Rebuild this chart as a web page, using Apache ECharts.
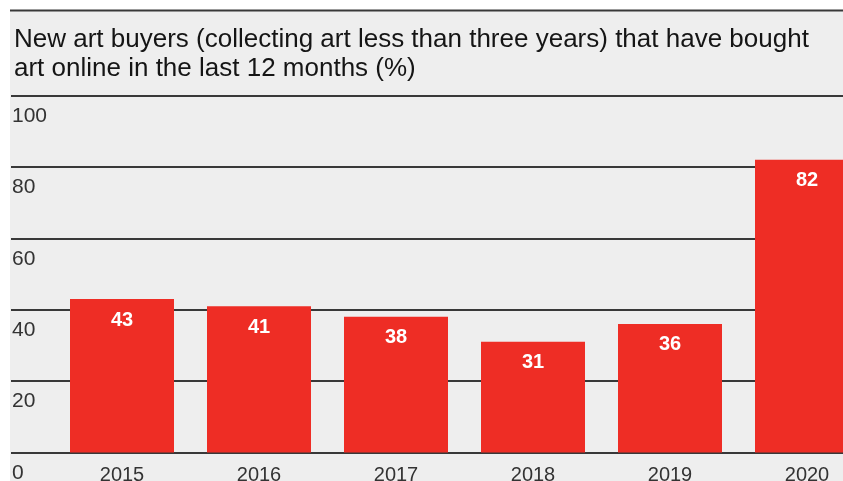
<!DOCTYPE html>
<html>
<head>
<meta charset="utf-8">
<style>
  html, body { margin: 0; padding: 0; background: #ffffff; }
  #chart { width: 843px; height: 481px; }
</style>
<script src="https://cdn.jsdelivr.net/npm/echarts@6/dist/echarts.min.js"></script>
</head>
<body>
<div id="chart"></div>
<script>
// Survey years and share of new buyers purchasing online (%)
const years = ['2015', '2016', '2017', '2018', '2019', '2020'];
const shareOnline = [43, 41, 38, 31, 36, 82];
const yTicks = [0, 20, 40, 60, 80, 100];

const titleText = 'New art buyers (collecting art less than three years) that have bought\nart online in the last 12 months (%)';

const chart = echarts.init(document.getElementById('chart'), null, { renderer: 'canvas' });

const FONT = '"Liberation Sans", Arial, sans-serif';
const TOP = 95.5;
const BOTTOM = 481 - 452.5;

chart.setOption({
  animation: false,
  backgroundColor: '#ffffff',
  graphic: [
    { type: 'rect', z: -10, silent: true,
      shape: { x: 10, y: 10, width: 833, height: 471 },
      style: { fill: '#eeeeee' } },
    { type: 'line', z: 5, silent: true,
      shape: { x1: 10, y1: 10.5, x2: 843, y2: 10.5 },
      style: { stroke: '#383838', lineWidth: 2 } }
  ],
  title: {
    text: titleText,
    left: 9,
    top: 20,
    textStyle: { fontFamily: FONT, fontSize: 26, fontWeight: 'normal', color: '#151515', lineHeight: 29.5 }
  },
  grid: [
    { left: 11, right: 0, top: TOP, bottom: BOTTOM, outerBoundsMode: 'none', containLabel: false },
    { left: 53.5, right: -32.5, top: TOP, bottom: BOTTOM, outerBoundsMode: 'none', containLabel: false }
  ],
  xAxis: [
    { gridIndex: 0, type: 'value', min: 0, max: 1, show: false },
    { gridIndex: 1, type: 'category', data: years,
      axisLine: { show: false }, axisTick: { show: false },
      axisLabel: { fontFamily: FONT, fontSize: 20, color: '#333333', margin: 13 } }
  ],
  yAxis: [
    { gridIndex: 0, type: 'value', min: 0, max: 100, interval: 20,
      axisLine: { show: false }, axisTick: { show: false },
      splitLine: { lineStyle: { color: '#383838', width: 1.8 } },
      axisLabel: {
        inside: true, margin: 1, verticalAlign: 'top', padding: [10, 0, 0, 0],
        fontFamily: FONT, fontSize: 21, color: '#333333',
        formatter: function (v) { return yTicks.indexOf(v) >= 0 ? String(v) : ''; }
      } },
    { gridIndex: 1, type: 'value', min: 0, max: 100, interval: 20, show: false,
      splitLine: { show: false } }
  ],
  series: [{
    type: 'bar',
    xAxisIndex: 1,
    yAxisIndex: 1,
    data: shareOnline,
    barWidth: 104,
    itemStyle: { color: '#ee2d25' },
    label: {
      show: true, position: 'insideTop', distance: 11,
      fontFamily: FONT, fontSize: 20, fontWeight: 'bold', color: '#ffffff'
    }
  }]
});
</script>
</body>
</html>
